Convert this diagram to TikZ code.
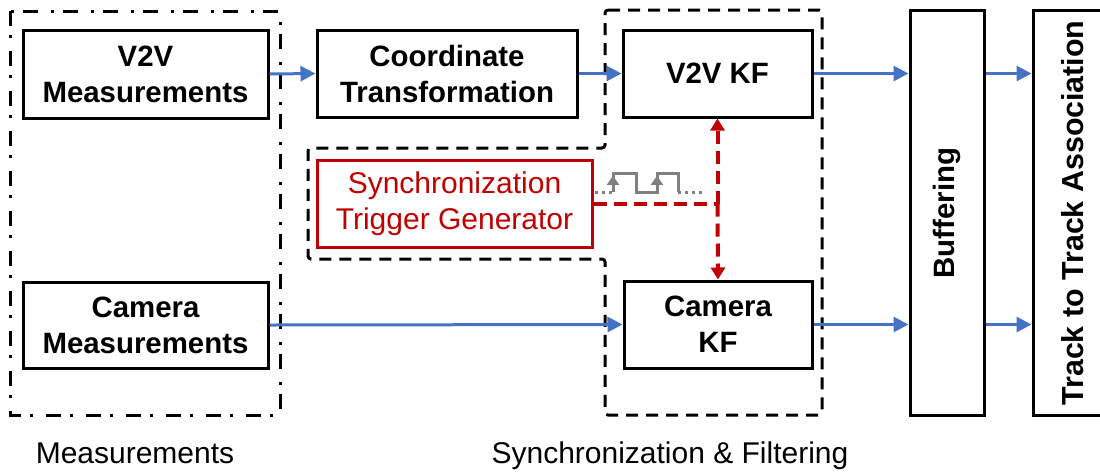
\documentclass[tikz,border=0pt]{standalone}
\usepackage{fontspec}
\setmainfont{Liberation Sans}
\usetikzlibrary{arrows.meta,calc}
\definecolor{myblue}{RGB}{68,114,196}
\definecolor{myred}{RGB}{192,0,0}
\definecolor{mygray}{RGB}{128,128,128}
\tikzset{
  box/.style={draw=black, line width=1.5pt, align=center, font=\fontsize{14.7}{18}\selectfont\bfseries, inner sep=0pt},
  redbox/.style={draw=myred, line width=1.5pt, align=center, text=myred, font=\fontsize{15}{18}\selectfont, inner sep=0pt},
  flow/.style={draw=myblue, line width=1.5pt, -{Triangle[length=7.5pt,width=7.5pt]}},
  sync/.style={draw=myred, line width=2pt, dash pattern=on 6.5pt off 3.5pt},
  syncarrow/.style={sync, -{Triangle[length=6pt,width=7pt]}},
  pulse/.style={draw=mygray, line width=1.5pt},
  dotline/.style={draw=mygray, line width=1.5pt, dash pattern=on 1.5pt off 2pt},
  groupA/.style={draw=black, line width=1.5pt, dash pattern=on 7.5pt off 4.5pt on 1.5pt off 6.5pt},
  groupB/.style={draw=black, line width=1.5pt, dash pattern=on 6pt off 4pt, rounded corners=1.5pt},
  caption/.style={font=\fontsize{15}{18}\selectfont, anchor=base}
}
\begin{document}
\begin{tikzpicture}[x=0.5pt,y=-0.5pt]
\useasboundingbox (0,0) rectangle (1100,473);
\begin{scope}
\clip (0,0) rectangle (1100,473);
% groups
\draw[groupA] (10,11) rectangle (280,415);
\draw[groupB] (605,10) -- (822,10) -- (822,415) -- (605,415) -- (605,259) -- (308,259) -- (308,148) -- (605,148) -- cycle;
% nodes
\node[box, minimum width=122.5pt, minimum height=44pt] (v2vm) at (145.5,74) {V2V\\Measurements};
\node[box, minimum width=122.5pt, minimum height=43pt] (camm) at (145.5,325) {Camera\\Measurements};
\node[box, minimum width=130pt, minimum height=43.5pt] (ct) at (447,73.5) {Coordinate\\Transformation};
\node[box, minimum width=94.5pt, minimum height=43.5pt] (v2vkf) at (717.5,73.5) {V2V KF};
\node[box, minimum width=94pt, minimum height=43.5pt] (camkf) at (718,324.5) {Camera\\KF};
\node[redbox, minimum width=137.5pt, minimum height=43.5pt] (stg) at (454.5,203.5) {\raisebox{-1.2pt}{Synchronization}\\\raisebox{-1.2pt}{Trigger Generator}};
\node[box, rotate=90, minimum width=202.5pt, minimum height=37pt] (buf) at (947,213) {Buffering};
\node[box, rotate=90, minimum width=202.5pt, minimum height=40pt, font=\fontsize{15.2}{18}\selectfont\bfseries] (tta) at (1073,213) {Track to Track Association};
% flows
\draw[flow] (v2vm.east) -- (ct.west);
\draw[flow] (ct.east) -- (v2vkf.west);
\draw[flow] (camm.east) -- (camkf.west);
\draw[flow] (v2vkf.east) -- (v2vkf.east -| buf.north);
\draw[flow] (camkf.east) -- (camkf.east -| buf.north);
\draw[flow] (buf.south |- v2vkf.east) -- (tta.north |- v2vkf.east);
\draw[flow] (buf.south |- camkf.east) -- (tta.north |- camkf.east);
% sync trigger
\coordinate (j) at (v2vkf.south |- stg.east);
\draw[sync] (stg.east) -- (j);
\draw[syncarrow] (j) -- (v2vkf.south);
\draw[syncarrow] (j) -- (camkf.north);
% pulse
\coordinate (p0) at (595,192);
\coordinate (p1) at (613,192);
\coordinate (p2) at (613,173);
\coordinate (p3) at (636,173);
\coordinate (p4) at (636,192);
\coordinate (p5) at (657,192);
\coordinate (p6) at (657,173);
\coordinate (p7) at (678,173);
\coordinate (p8) at (678,192);
\coordinate (p9) at (706,192);
\draw[dotline] (p0) -- (p1);
\draw[pulse] (p1) -- (p2) -- (p3) -- (p4) -- (p5) -- (p6) -- (p7) -- (p8);
\draw[dotline] (p8) -- (p9);
\draw[pulse, -{Triangle[length=4.5pt,width=6pt]}] (p1) -- ($(p1)!0.85!(p2)$);
\draw[pulse, -{Triangle[length=4.5pt,width=6pt]}] (p5) -- ($(p5)!0.85!(p6)$);
\end{scope}
% captions
\node[caption] (capA) at (135,463) {Measurements};
\node[caption] (capB) at (670,463) {Synchronization \& Filtering};
\end{tikzpicture}
\end{document}
